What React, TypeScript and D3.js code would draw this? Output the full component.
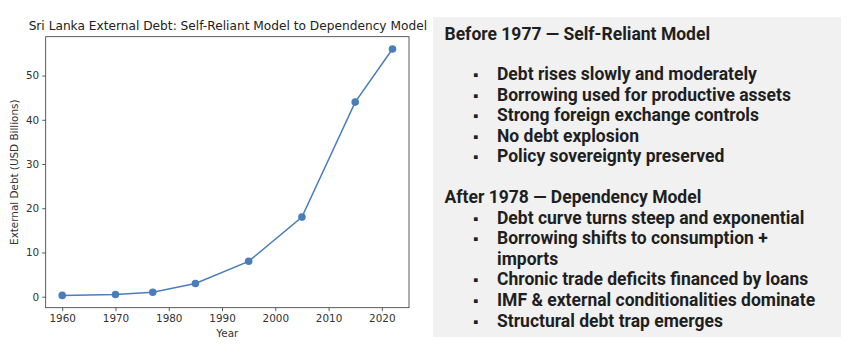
import React from 'react';
import * as d3 from 'd3';

const years = [1960, 1970, 1977, 1985, 1995, 2005, 2015, 2022];
const debt = [0.3, 0.5, 1.0, 3, 8, 18, 44, 56];
const xTicks = [1960, 1970, 1980, 1990, 2000, 2010, 2020];
const yTicks = [0, 10, 20, 30, 40, 50];

const beforeTitle = 'Before 1977 \u2014 Self-Reliant Model';
const beforeBullets = [
  'Debt rises slowly and moderately',
  'Borrowing used for productive assets',
  'Strong foreign exchange controls',
  'No debt explosion',
  'Policy sovereignty preserved',
];
const afterTitle = 'After 1978 \u2014 Dependency Model';
const afterBullets = [
  ['Debt curve turns steep and exponential'],
  ['Borrowing shifts to consumption +', 'imports'],
  ['Chronic trade deficits financed by loans'],
  ['IMF & external conditionalities dominate'],
  ['Structural debt trap emerges'],
];

const W = 857;
const H = 360;
const box = { left: 45.7, right: 409, top: 36.7, bottom: 307.7 };
const lineColor = '#4a7ebb';
const mplFont = '"DejaVu Sans", sans-serif';
const panelFont = 'Roboto, "Noto Sans", sans-serif';

export default function App() {
  const svgRef = React.useRef(null);

  React.useEffect(() => {
    const svg = d3.select(svgRef.current);
    svg.selectAll('*').remove();

    // matplotlib-style 5% margins
    const xPad = (d3.max(years)! - d3.min(years)!) * 0.05;
    const yPad = (d3.max(debt)! - d3.min(debt)!) * 0.05;
    const x = d3
      .scaleLinear()
      .domain([d3.min(years)! - xPad, d3.max(years)! + xPad])
      .range([box.left, box.right]);
    const y = d3
      .scaleLinear()
      .domain([d3.min(debt)! - yPad, d3.max(debt)! + yPad])
      .range([box.bottom, box.top]);

    const chart = svg.append('g');

    chart
      .append('text')
      .text('Sri Lanka External Debt: Self-Reliant Model to Dependency Model')
      .attr('x', (box.left + box.right) / 2 + 0.5)
      .attr('y', 29.5)
      .attr('text-anchor', 'middle')
      .attr('font-family', mplFont)
      .attr('font-size', 12.2)
      .attr('fill', '#222');

    const xAxis = chart
      .append('g')
      .attr('transform', `translate(0,${box.bottom})`)
      .call(d3.axisBottom(x).tickValues(xTicks).tickFormat(d3.format('d')).tickSize(3.5).tickPadding(3));
    const yAxis = chart
      .append('g')
      .attr('transform', `translate(${box.left},0)`)
      .call(d3.axisLeft(y).tickValues(yTicks).tickSize(3.5).tickPadding(3));
    [xAxis, yAxis].forEach((a) => {
      a.select('.domain').remove();
      a.selectAll('line').attr('stroke', '#333').attr('stroke-width', 0.8);
      a.selectAll('text').attr('font-family', mplFont).attr('font-size', 10.4).attr('fill', '#333');
    });

    chart
      .append('rect')
      .attr('x', box.left)
      .attr('y', box.top)
      .attr('width', box.right - box.left)
      .attr('height', box.bottom - box.top)
      .attr('fill', 'none')
      .attr('stroke', '#333')
      .attr('stroke-width', 0.8);

    chart
      .append('text')
      .text('Year')
      .attr('x', (box.left + box.right) / 2)
      .attr('y', 337)
      .attr('text-anchor', 'middle')
      .attr('font-family', mplFont)
      .attr('font-size', 10.4)
      .attr('fill', '#333');

    chart
      .append('text')
      .text('External Debt (USD Billions)')
      .attr('transform', `translate(18,${(box.top + box.bottom) / 2}) rotate(-90)`)
      .attr('text-anchor', 'middle')
      .attr('font-family', mplFont)
      .attr('font-size', 10.4)
      .attr('fill', '#333');

    const line = d3
      .line<number>()
      .x((_, i) => x(years[i]))
      .y((d) => y(d));
    chart
      .append('path')
      .datum(debt)
      .attr('d', line)
      .attr('fill', 'none')
      .attr('stroke', lineColor)
      .attr('stroke-width', 1.5);
    chart
      .selectAll('circle')
      .data(debt)
      .join('circle')
      .attr('cx', (_, i) => x(years[i]))
      .attr('cy', (d) => y(d))
      .attr('r', 3.8)
      .attr('fill', lineColor);

    // text panel
    const panel = svg.append('g');
    panel
      .append('rect')
      .attr('x', 433)
      .attr('y', 17)
      .attr('width', 408)
      .attr('height', 320)
      .attr('fill', '#f1f1f1');

    const textX = 444.5;
    const bulletX = 473;
    const itemX = 497;
    const step = 20.6;

    const addText = (s: string, tx: number, ty: number, size = 17.5) =>
      panel
        .append('text')
        .text(s)
        .attr('x', tx)
        .attr('y', ty)
        .attr('font-family', panelFont)
        .attr('font-weight', 700)
        .attr('font-size', size)
        .attr('fill', '#1f1f1f');

    addText(beforeTitle, textX, 39.5);
    beforeBullets.forEach((b, i) => {
      const ty = 80 + i * step;
      addText('\u25AA', bulletX, ty, 15);
      addText(b, itemX, ty);
    });

    addText(afterTitle, textX, 203);
    let row = 0;
    afterBullets.forEach((lines) => {
      lines.forEach((l, j) => {
        const ty = 223.5 + row * step;
        if (j === 0) addText('\u25AA', bulletX, ty, 15);
        addText(l, itemX, ty);
        row++;
      });
    });
  }, []);

  return (
    <div style={{ width: W, height: H, background: '#fff', margin: -8 }}>
      <svg ref={svgRef} width={W} height={H} />
    </div>
  );
}
